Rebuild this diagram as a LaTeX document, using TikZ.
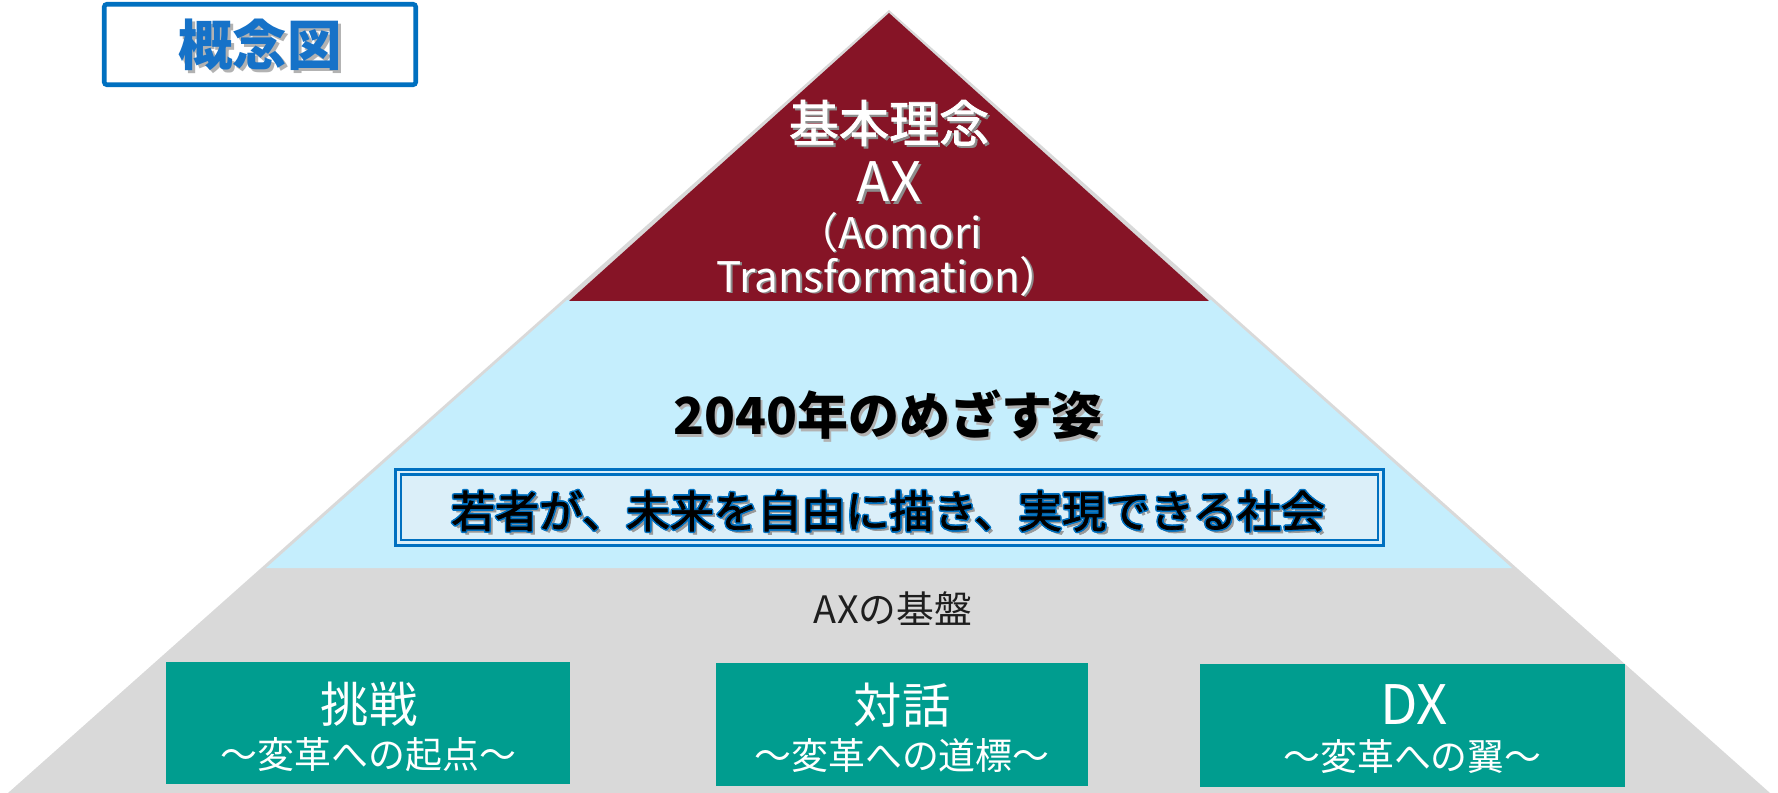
\documentclass[tikz,border=0pt]{standalone}
\usepackage{fontspec}
\setmainfont{Noto Sans CJK JP}
\newfontfamily\jpsemi{Noto Sans CJK JP}[FakeBold=1.6]
\definecolor{pyrred}{RGB}{134,20,38}
\definecolor{pyrblue}{RGB}{197,238,253}
\definecolor{pyrgray}{RGB}{217,217,217}
\definecolor{tealbox}{RGB}{0,157,143}
\definecolor{boxblue}{RGB}{0,112,192}
\definecolor{innerfill}{RGB}{219,239,249}
\definecolor{titleblue}{RGB}{22,114,200}
\definecolor{basetext}{RGB}{30,30,30}
\newcommand{\shd}[3]{\leavevmode\rlap{\smash{\hspace*{#2}\raisebox{-#2}{\textcolor{#3}{#1}}}}#1}
\newcommand{\halo}[1]{\leavevmode
  \rlap{\smash{\hspace*{1.8pt}\raisebox{-1.8pt}{\textcolor{black!40}{#1}}}}%
  \rlap{\smash{\hspace*{-0.9pt}\textcolor{boxblue}{#1}}}%
  \rlap{\smash{\hspace*{0.9pt}\textcolor{boxblue}{#1}}}%
  \rlap{\smash{\raisebox{0.9pt}{\textcolor{boxblue}{#1}}}}%
  \rlap{\smash{\raisebox{-0.9pt}{\textcolor{boxblue}{#1}}}}%
  \rlap{\smash{\hspace*{0.65pt}\raisebox{0.65pt}{\textcolor{boxblue}{#1}}}}%
  \rlap{\smash{\hspace*{-0.65pt}\raisebox{-0.65pt}{\textcolor{boxblue}{#1}}}}%
  \rlap{\smash{\hspace*{0.65pt}\raisebox{-0.65pt}{\textcolor{boxblue}{#1}}}}%
  \rlap{\smash{\hspace*{-0.65pt}\raisebox{0.65pt}{\textcolor{boxblue}{#1}}}}%
  #1}
\tikzset{
  txt/.style={inner sep=0pt, outer sep=0pt},
  titlebox/.style={draw=boxblue, line width=2.6pt, fill=white, rounded corners=1.5pt,
    minimum width=6.23cm, minimum height=1.61cm, inner sep=0pt},
  visionbox/.style={draw=boxblue, line width=1.4pt, double=innerfill, double distance=1.7pt,
    fill=innerfill, minimum width=19.66cm, minimum height=1.42cm, inner sep=0pt},
  pillar/.style={fill=tealbox, inner sep=0pt, minimum height=2.46cm},
  pillartop/.style={txt, text=white, font=\fontsize{27.5}{30}\selectfont},
  pillarsub/.style={txt, text=white, font=\fontsize{21}{24}\selectfont},
}
\begin{document}
\begin{tikzpicture}[x=0.02cm,y=-0.02cm]
\useasboundingbox (0,0) rectangle (1778,793);
% pyramid layers
\fill[pyrgray] (889,10) -- (1770,793) -- (8,793) -- cycle;
\fill[pyrblue] (567,300) -- (1211,300) -- (1512,568) -- (266,568) -- cycle;
\fill[pyrred] (889,13) -- (1209,301) -- (569,301) -- cycle;

% title box
\node[titlebox] (title) at (260,44.5)
  {\textcolor{titleblue}{\fontsize{31}{34}\bfseries\selectfont\shd{概念図}{1.6pt}{black!30}}};

% top layer text
\node[txt, text=white, font=\fontsize{28.5}{31}\jpsemi\selectfont] (ideal) at (889,123) {\shd{基本理念}{1.2pt}{black!45}};
\node[txt, text=white, font=\fontsize{31}{34}\selectfont] (ax) at (889,182) {\shd{AX}{1.2pt}{black!45}};
\node[txt, text=white, font=\fontsize{24}{27}\selectfont] (aomori) at (889,232) {\shd{（Aomori}{1.1pt}{black!45}};
\node[txt, text=white, font=\fontsize{24}{27}\selectfont] (transf) at (889,276) {\shd{Transformation）}{1.1pt}{black!45}};

% middle layer
\node[txt, text=black, font=\fontsize{29}{32}\bfseries\selectfont] (goal) at (888,415) {\shd{2040年のめざす姿}{1.3pt}{black!30}};
\node[visionbox] (vision) at (889.5,507.5) {};
\node[txt, text=black, font=\fontsize{25}{28}\jpsemi\selectfont] (visiontext) at (888,511) {\halo{若者が、未来を自由に描き、実現できる社会}};

% base layer
\node[txt, text=basetext, font=\fontsize{21.5}{24}\selectfont] (base) at (893,609) {AXの基盤};

\node[pillar, minimum width=8.08cm] (p1) at (368,723) {};
\node[pillar, minimum width=7.44cm] (p2) at (902,724.5) {};
\node[pillar, minimum width=8.5cm] (p3) at (1412.5,725.5) {};

\node[pillartop] (p1a) at (369,704) {挑戦};
\node[pillarsub] (p1b) at (368.5,755) {～変革への起点～};
\node[pillartop] (p2a) at (902,705) {対話};
\node[pillarsub] (p2b) at (902,756) {～変革への道標～};
\node[pillartop, font=\fontsize{31}{34}\selectfont] (p3a) at (1414,705) {DX};
\node[pillarsub] (p3b) at (1412.5,756.5) {～変革への翼～};
\end{tikzpicture}
\end{document}
